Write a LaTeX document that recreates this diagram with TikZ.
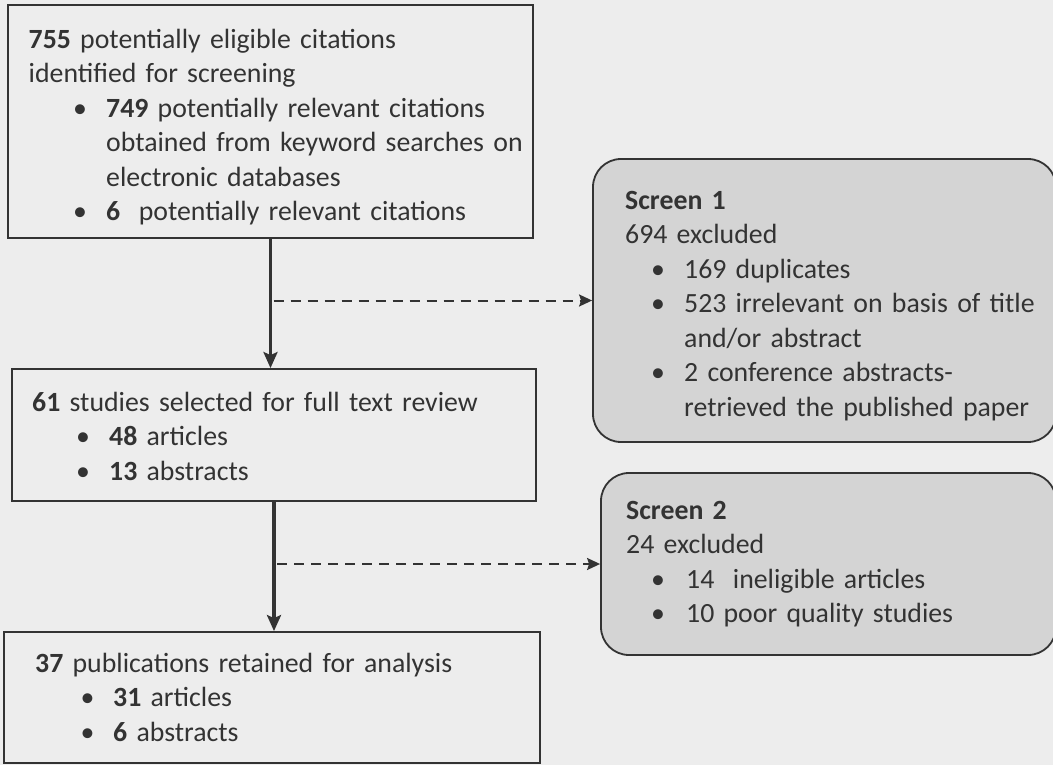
\documentclass[tikz,border=0pt]{standalone}
\usepackage{fontspec}
\setmainfont{Carlito}
\usepackage{tikz}
\usetikzlibrary{calc, positioning, arrows.meta, backgrounds}
\definecolor{paper}{gray}{0.93}
\definecolor{screenfill}{gray}{0.83}
\definecolor{ink}{gray}{0.2}
\tikzstyle{box}=[draw=ink, line width=1.8pt, shape=rectangle, inner sep=0pt]
\tikzstyle{screen}=[box, fill=screenfill, rounded corners=28pt]
\tikzstyle{txt}=[anchor=north west, inner sep=0pt, text width=520pt, align=left, text=ink, font=\fontsize{27.8}{34.5}\selectfont]
\tikzstyle{flow}=[draw=ink, line width=3.2pt, -{Stealth[length=16pt, width=14pt, inset=3pt]}]
\tikzstyle{skip}=[draw=ink, line width=2pt, dash pattern=on 10pt off 7pt, -{Stealth[length=13pt, width=12pt, inset=2pt]}]
\tikzset{>=stealth}
% bullet: #1 bullet indent, #2 text indent
\newcommand{\itm}[3]{\par\noindent\hangindent=#2\hangafter=1\hspace*{#1}\makebox[\dimexpr#2-#1\relax][l]{\textbullet}#3}

\begin{document}
\begin{tikzpicture}[x=1pt, y=-1pt]
\useasboundingbox[fill=paper] (0,0) rectangle (1053,765);
% the three boxes on the left
\node[box, minimum width=525pt, minimum height=233pt] (found) at (270.5,121.5) {};
\node[box, minimum width=524pt, minimum height=132pt] (full) at (274,435) {};
\node[box, minimum width=536pt, minimum height=131pt] (kept) at (272,697.5) {};
% the two screens on the right
\node[screen, minimum width=463pt, minimum height=283pt] (scr1) at (824.5,300.5) {};
\node[screen, minimum width=455pt, minimum height=182pt] (scr2) at (828.5,564) {};
% the texts
\node[txt] (foundtxt) at (28.5,23.85) {\strut\textbf{755} potentially eligible citations\newline identified for screening
  \itm{44.5pt}{77.5pt}{\textbf{749} potentially relevant citations\newline obtained from keyword searches on\newline electronic databases}
  \itm{44.5pt}{77.5pt}{\textbf{6}\ \ potentially relevant citations}\par};
\node[txt] (fulltxt) at (32,386.85) {\strut\textbf{61} studies selected for full text review
  \itm{44pt}{77pt}{\textbf{48} articles}
  \itm{44pt}{77pt}{\textbf{13} abstracts}\par};
\node[txt] (kepttxt) at (35,647.85) {\strut\textbf{37} publications retained for analysis
  \itm{45.5pt}{78pt}{\textbf{31} articles}
  \itm{45.5pt}{78pt}{\textbf{6} abstracts}\par};
\node[txt, text width=440pt] (scr1txt) at (625,184.85) {\strut\textbf{Screen 1}\newline 694 excluded
  \itm{26pt}{59pt}{169 duplicates}
  \itm{26pt}{59pt}{523 irrelevant on basis of title\newline and/or abstract}
  \itm{26pt}{59pt}{2 conference abstracts-\newline retrieved the published paper}\par};
\node[txt, text width=440pt] (scr2txt) at (626,494.85) {\strut\textbf{Screen 2}\newline 24 excluded
  \itm{25pt}{60pt}{14\ \ ineligible articles}
  \itm{25pt}{60pt}{10 poor quality studies}\par};
% the arrows
\draw[flow] (found.south) -- (found.south |- full.north);
\draw[flow] (full.south) -- (full.south |- kept.north);
\draw[skip] ($(found.south |- scr1.west)+(3,0)$) -- (scr1.west);
\draw[skip] ($(full.south |- scr2.west)+(3,0)$) -- (scr2.west);
\end{tikzpicture}
\end{document}
